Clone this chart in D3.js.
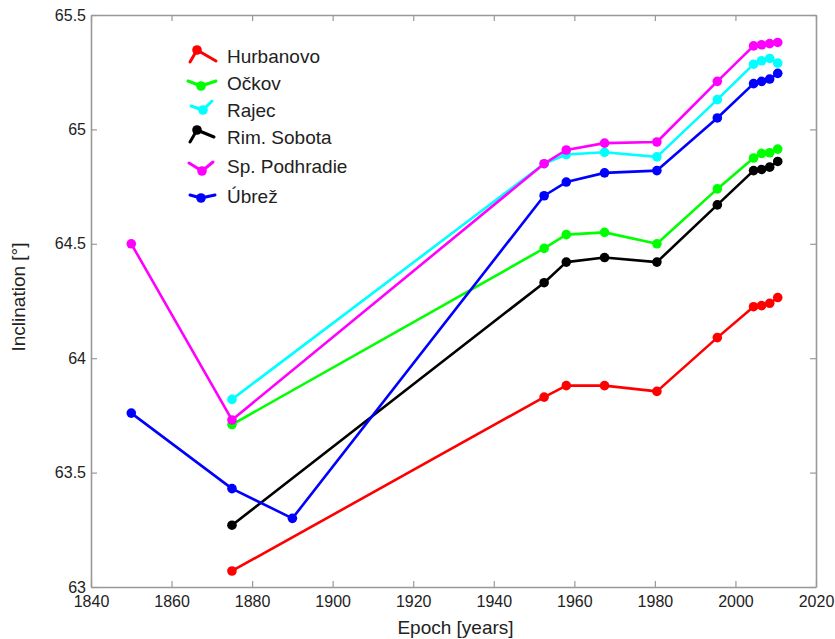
<!DOCTYPE html>
<html>
<head>
<meta charset="utf-8">
<script src="https://cdn.jsdelivr.net/npm/d3@7"></script>
<style>
  html, body { margin: 0; padding: 0; background: #fff; }
  svg { display: block; font-family: "Liberation Sans", Arial, sans-serif; }
</style>
</head>
<body>
<svg id="chart" width="835" height="639"></svg>
<script>
// Observation epochs (years)
const epochs = [1850, 1875, 1890, 1952.5, 1958, 1967.5, 1980.5, 1995.5, 2004.5, 2006.5, 2008.5, 2010.5];

// Inclination [°] per station; null where the station has no observation
const hurbanovo    = [null, 63.07, null, 63.83, 63.88, 63.88, 63.855, 64.09, 64.225, 64.23, 64.24, 64.265];
const ockov        = [null, 63.71, null, 64.48, 64.54, 64.55, 64.50, 64.74, 64.875, 64.895, 64.898, 64.914];
const rajec        = [null, 63.82, null, 64.85, 64.89, 64.90, 64.88, 65.13, 65.285, 65.30, 65.31, 65.29];
const rimSobota    = [null, 63.27, null, 64.33, 64.42, 64.44, 64.42, 64.67, 64.82, 64.825, 64.835, 64.86];
const spPodhradie  = [64.50, 63.73, null, 64.85, 64.91, 64.94, 64.945, 65.21, 65.365, 65.37, 65.375, 65.38];
const ubrez        = [63.76, 63.43, 63.30, 64.71, 64.77, 64.81, 64.82, 65.05, 65.20, 65.21, 65.22, 65.245];

const stationNames = ["Hurbanovo", "Očkov", "Rajec", "Rim. Sobota", "Sp. Podhradie", "Úbrež"];
const stationValues = [hurbanovo, ockov, rajec, rimSobota, spPodhradie, ubrez];
const stationColors = ["#ff0000", "#00ff00", "#00ffff", "#000000", "#ff00ff", "#0000ff"];

const xTicks = [1840, 1860, 1880, 1900, 1920, 1940, 1960, 1980, 2000, 2020];
const yTicks = [63, 63.5, 64, 64.5, 65, 65.5];

const W = 835, H = 639;
const margin = { top: 15, right: 19, bottom: 52, left: 91 };
const iw = W - margin.left - margin.right;
const ih = H - margin.top - margin.bottom;

const svg = d3.select("#chart");
const g = svg.append("g").attr("transform", `translate(${margin.left},${margin.top})`);

const x = d3.scaleLinear().domain([1840, 2020]).range([0, iw]);
const y = d3.scaleLinear().domain([63, 65.5]).range([ih, 0]);

const axisColor = "#999";
const labelColor = "#222";

function styleAxis(sel) {
  sel.select(".domain").attr("stroke", axisColor).attr("stroke-width", 1.6);
  sel.selectAll(".tick line").attr("stroke", axisColor).attr("stroke-width", 1.2);
  sel.selectAll(".tick text").attr("fill", labelColor).attr("font-size", 16)
    .attr("font-family", "Liberation Sans, Arial, sans-serif");
}

// Bottom and left axes with labels, ticks pointing inward
g.append("g").attr("transform", `translate(0,${ih})`)
  .call(d3.axisBottom(x).tickValues(xTicks).tickFormat(d3.format("d"))
    .tickSizeInner(-6).tickSizeOuter(0).tickPadding(9))
  .call(styleAxis);

g.append("g")
  .call(d3.axisLeft(y).tickValues(yTicks).tickFormat(d => String(d))
    .tickSizeInner(-6).tickSizeOuter(0).tickPadding(5))
  .call(styleAxis);

// Top and right box edges with inward ticks
g.append("g")
  .call(d3.axisTop(x).tickValues(xTicks).tickFormat("")
    .tickSizeInner(-6).tickSizeOuter(0))
  .call(styleAxis);

g.append("g").attr("transform", `translate(${iw},0)`)
  .call(d3.axisRight(y).tickValues(yTicks).tickFormat("")
    .tickSizeInner(-6).tickSizeOuter(0))
  .call(styleAxis);

// Axis titles
svg.append("text")
  .attr("x", margin.left + iw / 2 + 2).attr("y", 634)
  .attr("text-anchor", "middle").attr("font-size", 19).attr("fill", labelColor)
  .text("Epoch [years]");

svg.append("text")
  .attr("transform", `translate(25,${margin.top + ih / 2 - 4}) rotate(-90)`)
  .attr("text-anchor", "middle").attr("font-size", 19).attr("fill", labelColor)
  .text("Inclination [°]");

// Station series
const line = d3.line().x(d => x(d.t)).y(d => y(d.v));

stationValues.forEach((vals, i) => {
  const pts = epochs.map((t, k) => ({ t, v: vals[k] })).filter(d => d.v !== null);
  const sg = g.append("g");
  sg.append("path").datum(pts)
    .attr("d", line).attr("fill", "none")
    .attr("stroke", stationColors[i]).attr("stroke-width", 2.6)
    .attr("stroke-linejoin", "round");
  sg.selectAll("circle").data(pts).join("circle")
    .attr("cx", d => x(d.t)).attr("cy", d => y(d.v)).attr("r", 4.8)
    .attr("fill", stationColors[i]);
});

// Legend: short marker glyphs followed by station names
const legendGlyphs = [
  { dot: [197, 50],  pts: [[190, 62], [197, 50], [216, 61]], ty: 56 },
  { dot: [201, 86],  pts: [[188, 81], [201, 86], [216, 81]], ty: 83 },
  { dot: [203, 110], pts: [[191, 106], [203, 110], [212, 101]], ty: 110 },
  { dot: [197, 130], pts: [[190, 142], [197, 130], [214, 137]], ty: 137 },
  { dot: [202, 171], pts: [[189, 163], [202, 171], [213, 162]], ty: 166 },
  { dot: [201, 198], pts: [[190, 195], [201, 198], [215, 195]], ty: 196 }
];

const legend = svg.append("g");
stationNames.forEach((name, i) => {
  const gl = legendGlyphs[i];
  legend.append("path")
    .attr("d", d3.line()(gl.pts)).attr("fill", "none")
    .attr("stroke", stationColors[i]).attr("stroke-width", 3)
    .attr("stroke-linejoin", "round").attr("stroke-linecap", "round");
  legend.append("circle").attr("cx", gl.dot[0]).attr("cy", gl.dot[1]).attr("r", 4.8)
    .attr("fill", stationColors[i]);
  legend.append("text")
    .attr("x", 227).attr("y", gl.ty).attr("dy", "0.36em")
    .attr("font-size", 19).attr("fill", labelColor)
    .text(name);
});
</script>
</body>
</html>
